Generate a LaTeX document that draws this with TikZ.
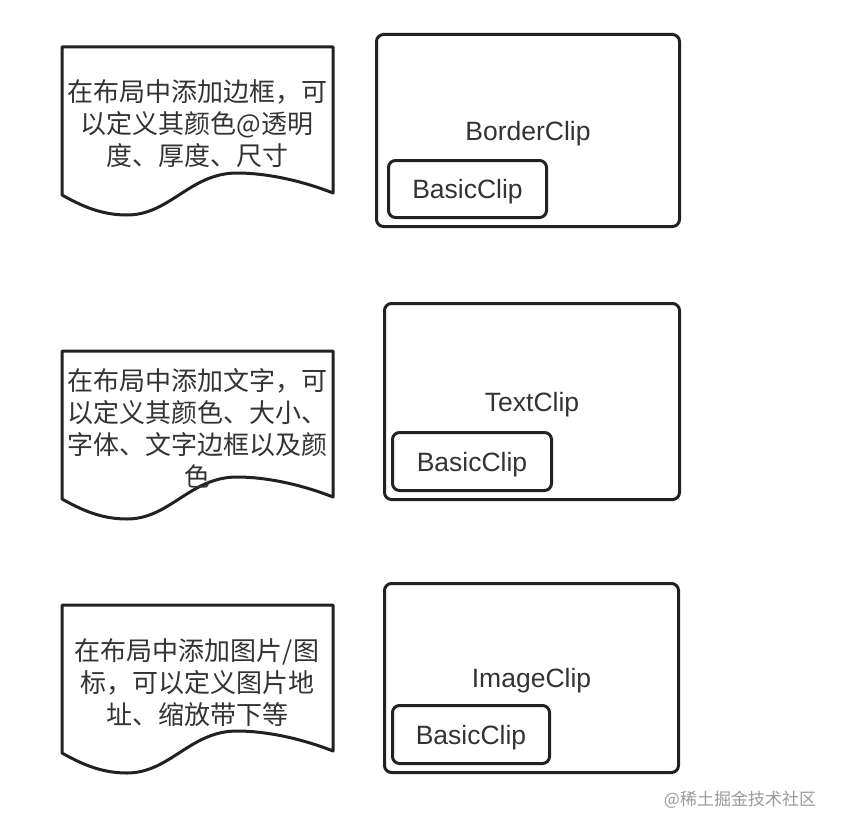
\documentclass[tikz,border=0pt]{standalone}
\usepackage{fontspec}
\setmainfont{Noto Sans CJK SC}
\newfontfamily\labelfont{Liberation Sans}

\begin{document}
\begin{tikzpicture}[x=1pt,y=-1pt,line join=round,
  clipbox/.style={draw=black!87,line width=3pt,rounded corners=7pt,text depth=0pt,
    font=\labelfont\fontsize{26.5}{30}\selectfont,text=black!80},
  notetext/.style={align=center,font=\fontsize{26}{32}\selectfont,text=black!80}]
  \useasboundingbox (0,0) rectangle (842,832);

  \foreach \dy in {0,304,558}
    \draw[black!87,line width=3pt,shift={(0,\dy)}]
      (62,47) -- (333,47) -- (333,193)
      .. controls (300,180) and (265,173) .. (237,173)
      .. controls (190,173) and (170,215) .. (127,215)
      .. controls (100,215) and (80,205) .. (62,195) -- cycle;

  \node[notetext] (note1) at (197,124) {在布局中添加边框，可\\以定义其颜色@透明\\度、厚度、尺寸};
  \node[notetext] (note2) at (197,428) {在布局中添加文字，可\\以定义其颜色、大小、\\字体、文字边框以及颜\\色};
  \node[notetext] (note3) at (197,683) {在布局中添加图片/图\\标，可以定义图片地\\址、缩放带下等};

  \node[clipbox,minimum width=303pt,minimum height=192pt] (border) at (528,130.5) {BorderClip};
  \node[clipbox,minimum width=158pt,minimum height=57pt] (basic1) at (467.5,189) {BasicClip};

  \node[clipbox,minimum width=295pt,minimum height=196pt] (text) at (532,401.5) {TextClip};
  \node[clipbox,minimum width=159pt,minimum height=58pt] (basic2) at (472,461.5) {BasicClip};

  \node[clipbox,minimum width=294pt,minimum height=189pt] (image) at (531.5,678) {ImageClip};
  \node[clipbox,minimum width=157pt,minimum height=58pt] (basic3) at (471,734.5) {BasicClip};

  \node[text=black!40,font=\fontsize{17}{17}\selectfont] (mark) at (740,800) {@稀土掘金技术社区};
\end{tikzpicture}
\end{document}
